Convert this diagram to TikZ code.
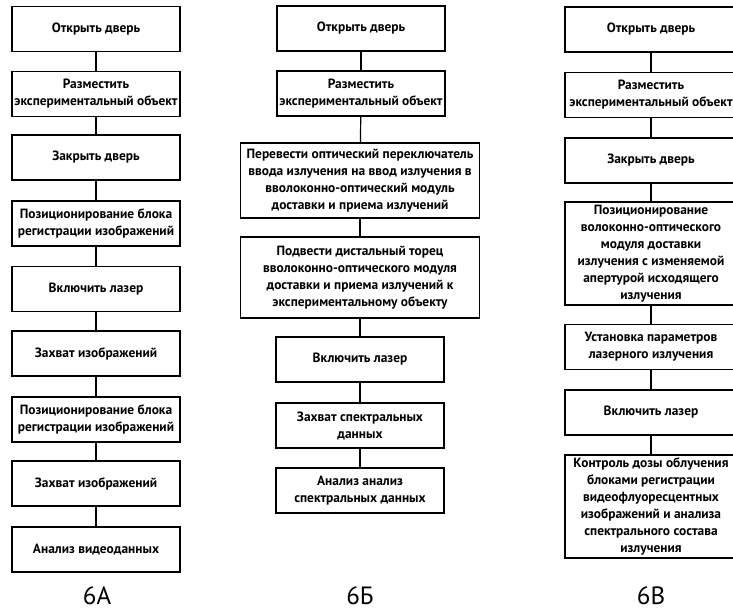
\documentclass[tikz,border=0pt]{standalone}
\usepackage{fontspec}
\setmainfont{PT Sans}
\tikzset{
  blk/.style={draw, line width=1.2pt, align=center, font=\bfseries\fontsize{13.4}{17}\selectfont,
    minimum height=45pt, inner sep=1pt},
  fig/.style={font=\fontsize{25}{25}\selectfont}
}
\begin{document}
\begin{tikzpicture}[x=1pt,y=-1pt]
      \path[use as bounding box, clip] (0,0) rectangle (733,614);
      % 6A
      \draw[every node/.style={blk, minimum width=168pt}]
        (96,29) node (a1){Открыть дверь}
        (96,94) node (a2){Разместить\\экспериментальный объект}
        (96,157.5) node (a3){Закрыть дверь}
        (96,223.5) node (a4){Позиционирование блока\\регистрации изображений}
        (96,289) node (a5){Включить лазер}
        (96,353.5) node (a6){Захват изображений}
        (96,419.5) node (a7){Позиционирование блока\\регистрации изображений}
        (96,483.5) node (a8){Захват изображений}
        (96,549.5) node (a9){Анализ видеоданных};
      % 6Б
      \draw[every node/.style={blk, minimum width=168pt}]
        (361,28.5) node (b1){Открыть дверь}
        (361,93.5) node (b2){Разместить\\экспериментальный объект}
        (360,180.5) node[minimum width=239pt, minimum height=75pt] (b3){Перевести оптический переключатель\\ввода излучения на ввод излучения в\\вволоконно-оптический модуль\\доставки и приема излучений}
        (360,277.5) node[minimum width=239pt, minimum height=81pt] (b4){Подвести дистальный торец\\вволоконно-оптического модуля\\доставки и приема излучений к\\экспериментальному объекту}
        (360,359.5) node (b5){Включить лазер}
        (360,425.5) node (b6){Захват спектральных\\данных}
        (360,490.5) node (b7){Анализ анализ\\спектральных данных};
      % 6В
      \draw[every node/.style={blk, minimum width=172pt}]
        (651,29.5) node (c1){Открыть дверь}
        (651,95) node (c2){Разместить\\экспериментальный объект}
        (651,160.5) node (c3){Закрыть дверь}
        (651,253.5) node[minimum height=103pt] (c4){Позиционирование\\волоконно-оптического\\модуля доставки\\излучения с изменяемой\\апертурой исходящего\\излучения}
        (651,347) node (c5){Установка параметров\\лазерного излучения}
        (651,412.5) node (c6){Включить лазер}
        (651,506.5) node[minimum height=103pt] (c7){Контроль дозы облучения\\блоками  регистрации\\видеофлуоресцентных\\изображений и анализа\\спектрального состава\\излучения};
      \path
        (97,596) node[fig] (la){6А}
        (360,596) node[fig] (lb){6Б}
        (651,596) node[fig] (lc){6В};
      \begin{scope}[-, line width=1.2pt]
        \draw (a1) to (a2);
        \draw (a2) to (a3);
        \draw (a3) to (a4);
        \draw (a4) to (a5);
        \draw (a5) to (a6);
        \draw (a6) to (a7);
        \draw (a7) to (a8);
        \draw (a8) to (a9);
        \draw (b1) to (b2);
        \draw (b2) to (b3);
        \draw (b3) to (b4);
        \draw (b4) to (b5);
        \draw (b5) to (b6);
        \draw (b6) to (b7);
        \draw (c1) to (c2);
        \draw (c2) to (c3);
        \draw (c3) to (c4);
        \draw (c4) to (c5);
        \draw (c5) to (c6);
        \draw (c6) to (c7);
      \end{scope}
    \end{tikzpicture}
\end{document}
